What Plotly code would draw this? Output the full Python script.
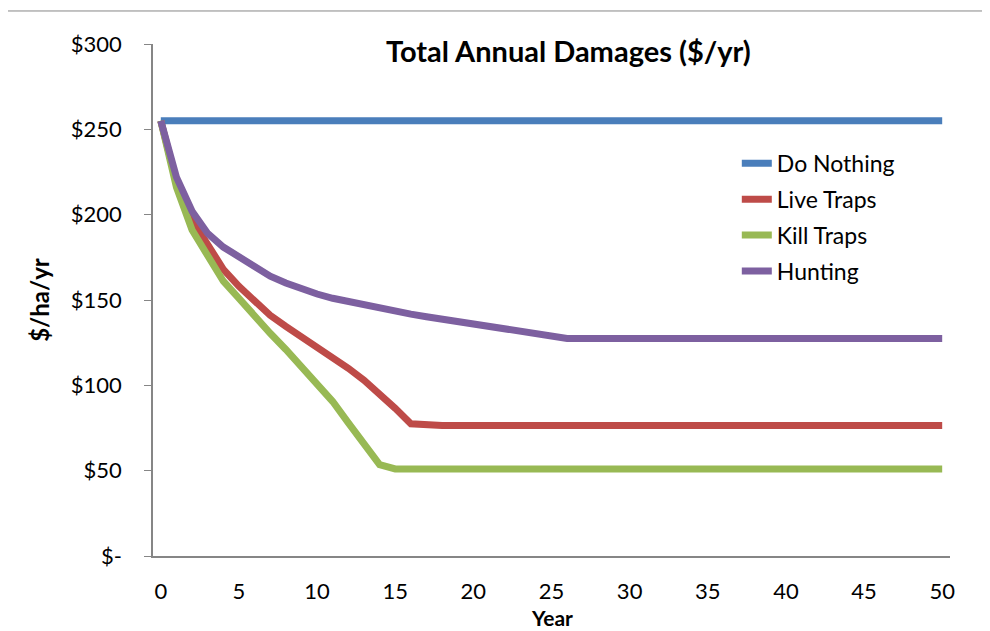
import plotly.graph_objects as go

years = list(range(0, 51))

do_nothing = [255] * 51

live_traps = [255, 219, 197, 182, 168, 158, 149.5, 141, 134.5, 128.5, 122,
              116, 110, 103, 95, 86.5, 77.5] + [76.5] * 34

kill_traps = [255, 216, 191, 175, 161, 151, 140, 130.5, 121, 111, 101,
              90.5, 78, 66, 53.5] + [51] * 36

hunting = [255, 222, 202, 189, 181, 175, 169, 164, 160, 156.5, 153.5,
           151, 149, 147, 145, 143.3, 141.7, 140.2, 138.7, 137.2, 135.7,
           134.2, 132.8, 131.4, 130, 128.7] + [127.5] * 25

series = [
    ("Do Nothing", do_nothing, "#4A7EBB"),
    ("Live Traps", live_traps, "#BE4B48"),
    ("Kill Traps", kill_traps, "#98B954"),
    ("Hunting", hunting, "#7D60A0"),
]

y_ticks = [0, 50, 100, 150, 200, 250, 300]
y_labels = ["$-", "$50", "$100", "$150", "$200", "$250", "$300"]
x_ticks = list(range(0, 51, 5))

FONT = "Lato"
GREY = "#868686"

fig = go.Figure()
for name, vals, color in series:
    fig.add_trace(go.Scatter(
        x=years, y=vals, name=name, mode="lines", legendgroup=name,
        line=dict(color=color, width=7),
    ))

# the page body adds an 8px offset, so the figure is 8px smaller
fig.update_layout(
    width=982, height=623,
    paper_bgcolor="white", plot_bgcolor="white",
    margin=dict(l=145, r=40, t=36, b=75),
    font=dict(family=FONT, size=22, color="black"),
    showlegend=True,
    legend=dict(x=0.7325, y=0.809, xanchor="left", yanchor="top",
                bgcolor="rgba(0,0,0,0)", font=dict(size=23),
                tracegroupgap=3),
)

fig.update_xaxes(
    range=[-0.5, 50.5], tickvals=x_ticks, showgrid=False, zeroline=False,
    showline=True, linecolor=GREY, linewidth=1.5, ticks="",
    ticklabelstandoff=15,
)
fig.update_yaxes(
    range=[0, 300], tickvals=y_ticks, ticktext=y_labels, showgrid=False,
    zeroline=False, showline=True, linecolor=GREY, linewidth=1.5,
    ticks="outside", ticklen=7, tickcolor=GREY, ticklabelstandoff=18,
    title=dict(text="<b>$/ha/yr</b>", font=dict(size=24), standoff=14),
)

fig.add_annotation(
    text="<b>Total Annual Damages ($/yr)</b>", xref="paper", yref="paper",
    x=0.521, y=0.988, xanchor="center", yanchor="middle", showarrow=False,
    font=dict(size=29),
)
fig.add_annotation(
    text="<b>Year</b>", xref="paper", yref="paper",
    x=0.5, y=-0.121, xanchor="center", yanchor="middle", showarrow=False,
    font=dict(size=21),
)

# outer chart frame (partly cut off at the right and bottom)
fig.add_shape(type="line", xref="paper", yref="paper", x0=-0.1857, x1=1.2,
              y0=1.0645, y1=1.0645, line=dict(color=GREY, width=1))
fig.add_shape(type="line", xref="paper", yref="paper", x0=-0.1857, x1=-0.1857,
              y0=1.0645, y1=-0.3, line=dict(color=GREY, width=1))

fig.write_html("out.html")
